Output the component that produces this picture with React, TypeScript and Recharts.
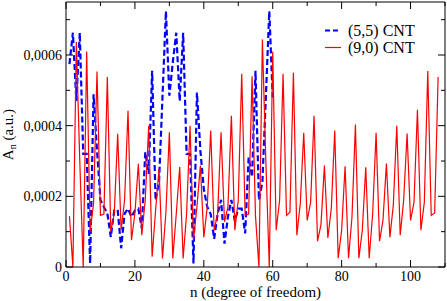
import { LineChart, Line, XAxis, YAxis, ReferenceLine, Legend, Label } from 'recharts';

// A_n values, in units of 1e-4 (a.u.), n = 1, 2, 3, ...
const cnt55 = [
  5.74, 6.63, 4.7, 6.63, 3.2, 3.2, 0.1, 4.89, 3.3, 1.9,
  1.7, 1.52, 0.85, 1.6, 1.62, 0.53, 1.51, 1.65, 1.42, 1.6,
  1.65, 1.1, 3.25, 2.64, 5.55, 1.89, 2.4, 4.8, 7.24, 4.85,
  5.8, 6.63, 4.7, 6.63, 3.2, 3.2, 0.1, 4.94, 3.3, 2.2,
  1.7, 1.5, 0.8, 1.5, 1.9, 0.66, 1.42, 1.9, 1.3, 1.65,
  1.65, 0.95, 3.1, 2.55, 5.55, 1.9, 2.4, 4.8, 7.24, 4.8,
];

const cnt90 = [
  1.44, 0, 6.37, 3.0, 0, 6.1, 1.0, 1.8, 5.53, 1.46,
  1.5, 5.38, 1.0, 1.5, 3.77, 1.04, 1.89, 4.42, 0.76, 1.52,
  2.92, 0.9, 1.9, 4.0, 0.29, 1.6, 2.78, 0.24, 1.55, 3.81,
  0.24, 1.5, 2.83, 0.24, 1.5, 4.0, 0.76, 1.7, 2.87, 0.84,
  1.7, 3.86, 1.04, 1.5, 3.81, 1.28, 1.7, 4.28, 1.04, 1.89,
  5.47, 1.46, 1.5, 5.4, 1.44, 0, 6.44, 3.0, 0, 6.1,
  1.04, 1.89, 5.47, 1.46, 1.55, 5.5, 0.9, 1.8, 3.8, 1.32,
  1.83, 4.28, 0.73, 1.2, 2.87, 0.82, 1.66, 3.86, 0.25, 1.04,
  2.85, 0.25, 1.41, 4.03, 0.25, 1.04, 2.82, 0.25, 1.5, 3.8,
  0.73, 1.32, 2.93, 0.84, 1.75, 4.0, 0.9, 1.89, 3.78, 1.32,
  1.83, 4.45, 1.04, 1.83, 5.55, 1.46, 1.53, 5.38,
];

const xTicks = [0, 10, 20, 30, 40, 50, 60, 70, 80, 90, 100, 110];
const yTicks = [0, 1, 2, 3, 4, 5, 6, 7];

const data = cnt90.map((v, i) => ({
  n: i + 1,
  cnt90: v,
  cnt55: i < cnt55.length ? cnt55[i] : undefined,
}));

const W = 447;
const H = 301;
const M_TOP = 2;
const M_RIGHT = 2;
const Y_W = 66;
const X_H = 34;
const PLOT_W = W - Y_W - M_RIGHT;
const PLOT_H = H - M_TOP - X_H;

const FONT = '"Liberation Serif", "Times New Roman", serif';
const BLUE = '#0000ff';
const RED = '#ff0000';

function XTick({ x, y, payload }: any) {
  const v = payload.value;
  const major = v % 20 === 0;
  const len = major ? 7 : 4;
  return (
    <g>
      <line x1={x} x2={x} y1={y} y2={y - len} stroke="#000" />
      <line x1={x} x2={x} y1={y - PLOT_H} y2={y - PLOT_H + len} stroke="#000" />
      {major && v <= 100 && (
        <text x={x} y={y + 14} textAnchor="middle" fontFamily={FONT} fontSize={14} fill="#000">
          {v}
        </text>
      )}
    </g>
  );
}

function YTick({ x, y, payload }: any) {
  const v = payload.value;
  const major = v % 2 === 0;
  const len = major ? 7 : 4;
  return (
    <g>
      <line x1={x} x2={x + len} y1={y} y2={y} stroke="#000" />
      <line x1={x + PLOT_W} x2={x + PLOT_W - len} y1={y} y2={y} stroke="#000" />
      {major && (
        <text x={x - 4} y={y + 5} textAnchor="end" fontFamily={FONT} fontSize={14} fill="#000">
          {v === 0 ? '0' : `0,000${v}`}
        </text>
      )}
    </g>
  );
}

const legendItems = [
  { name: '(5,5) CNT', color: BLUE, dash: '5 3', width: 2.2 },
  { name: '(9,0) CNT', color: RED, dash: undefined, width: 1.2 },
];

function renderLegend() {
  return (
    <div style={{ fontFamily: FONT, fontSize: 16, lineHeight: '17px', color: '#000' }}>
      {legendItems.map((s) => (
        <div key={s.name} style={{ display: 'flex', alignItems: 'center', height: 17 }}>
          <svg width={16} height={17}>
            <line x1={0} x2={16} y1={8.5} y2={8.5} stroke={s.color}
              strokeWidth={s.width} strokeDasharray={s.dash} />
          </svg>
          <span style={{ marginLeft: 7, whiteSpace: 'nowrap' }}>{s.name}</span>
        </div>
      ))}
    </div>
  );
}

export default function App() {
  return (
    <div style={{ position: 'absolute', left: 0, top: 0, width: W, height: H, background: '#fff' }}>
      <LineChart width={W} height={H} data={data}
        margin={{ top: M_TOP, right: M_RIGHT, left: 0, bottom: 0 }}>
        <XAxis dataKey="n" type="number" domain={[0, 110]} ticks={xTicks} interval={0}
          height={X_H} tickSize={0} tickMargin={0} tick={XTick}
          axisLine={{ stroke: '#000' }} tickLine={false}>
          <Label content={({ viewBox }: any) => (
            <text x={viewBox.x + viewBox.width / 2} y={viewBox.y + 30} textAnchor="middle"
              fontFamily={FONT} fontSize={15} fill="#000">
              n (degree of freedom)
            </text>
          )} />
        </XAxis>
        <YAxis type="number" domain={[0, 7.5]} ticks={yTicks} interval={0}
          width={Y_W} tickSize={0} tickMargin={0} tick={YTick}
          axisLine={{ stroke: '#000' }} tickLine={false}>
          <Label content={({ viewBox }: any) => {
            const cx = 13;
            const cy = viewBox.y + viewBox.height / 2;
            return (
              <text x={cx} y={cy} transform={`rotate(-90, ${cx}, ${cy})`} textAnchor="middle"
                fontFamily={FONT} fontSize={15} fill="#000">
                A<tspan dy={3} fontSize={10}>n</tspan><tspan dy={-3}> (a.u.)</tspan>
              </text>
            );
          }} />
        </YAxis>
        <ReferenceLine y={7.5} stroke="#000" />
        <ReferenceLine x={110} stroke="#000" />
        <Legend layout="vertical" align="center" verticalAlign="middle" content={renderLegend}
          wrapperStyle={{ position: 'absolute', left: 325, top: 22, width: 110 }} />
        <Line dataKey="cnt55" name="(5,5) CNT" type="linear" stroke={BLUE} strokeWidth={2.2}
          strokeDasharray="6 3" dot={false} isAnimationActive={false} connectNulls={false} />
        <Line dataKey="cnt90" name="(9,0) CNT" type="linear" stroke={RED} strokeWidth={1.2}
          dot={false} isAnimationActive={false} />
      </LineChart>
    </div>
  );
}
